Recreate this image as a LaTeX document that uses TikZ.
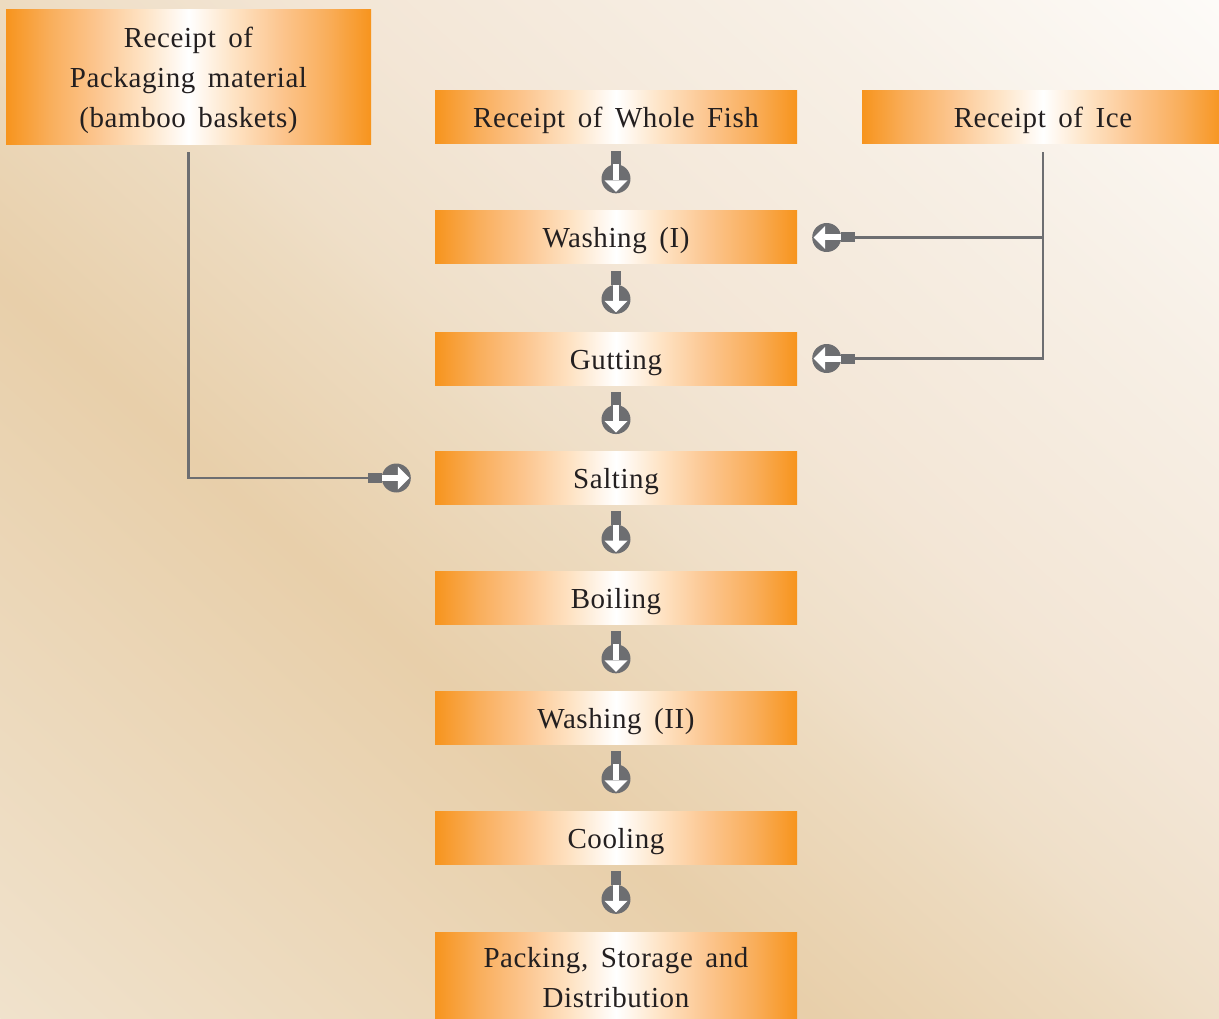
\documentclass[tikz,border=0pt]{standalone}
\usepackage{fontspec}
\setmainfont{Liberation Serif}[LetterSpace=2,WordSpace=1.6]
\usetikzlibrary{calc}

% palette
\definecolor{boxorange}{HTML}{F7941D}
\definecolor{orA}{HTML}{F9AE5B}
\definecolor{orB}{HTML}{FCC690}
\definecolor{orC}{HTML}{FEE4C6}
\definecolor{ink}{HTML}{231F20}
\definecolor{iconc}{HTML}{6D6E71}
\definecolor{bg0}{HTML}{FDFBF8}
\definecolor{bg1}{HTML}{F7EFE5}
\definecolor{bg2}{HTML}{F3E6D6}
\definecolor{bg3}{HTML}{EFDFC8}
\definecolor{bg4}{HTML}{EDDBC0}
\definecolor{bg5}{HTML}{E8CFAA}
\definecolor{bg6}{HTML}{F0E2CC}

% orange-white-orange fill of the process boxes
\pgfdeclarehorizontalshading{stepshade}{100bp}{%
  color(0bp)=(boxorange); color(25bp)=(boxorange); color(31bp)=(orA);
  color(37.5bp)=(orB); color(44bp)=(orC); color(50bp)=(white);
  color(56bp)=(orC); color(62.5bp)=(orB); color(69bp)=(orA);
  color(75bp)=(boxorange); color(100bp)=(boxorange)}

% diagonal backdrop, light in the upper right, tan band across the middle
\pgfdeclarehorizontalshading{bgshade}{100bp}{%
  color(0bp)=(bg0); color(25bp)=(bg0); color(34.6bp)=(bg1);
  color(43.8bp)=(bg2); color(49.1bp)=(bg3); color(50.9bp)=(bg4);
  color(57.6bp)=(bg5); color(75bp)=(bg6); color(100bp)=(bg6)}

\tikzset{
  stepbox/.style={rectangle, shade, shading=stepshade, minimum width=362,
    minimum height=53, inner sep=0, text=ink, align=center,
    font=\fontsize{29}{40}\selectfont, text height=21, text depth=0},
  multibox/.style={stepbox, text height=, text depth=0},
  link/.style={draw=iconc, line width=2.5},
  flowicon/.pic={
    \fill[iconc] (-5,-28) rectangle (5,-14);
    \fill[iconc] (0,0) circle[radius=14.5];
    \fill[white] (-3,-14.5) rectangle (3,1.5);
    \fill[white] (-11.5,1.5) -- (11.5,1.5) -- (0,13) -- cycle;
  }
}

\begin{document}
\begin{tikzpicture}[x=1pt, y=-1pt]
\useasboundingbox (0,0) rectangle (1219,1019);

% backdrop
\begin{scope}
  \clip (0,0) rectangle (1219,1019);
  \begin{scope}[transform canvas={rotate=228.1}]
    \shade[shading=bgshade] (-814,-1700) rectangle (758,1700);
  \end{scope}
\end{scope}

% process steps
\node[stepbox] (fish)  at (616,117.5) {Receipt of Whole Fish};
\node[stepbox] (wash1) at (616,237.5) {Washing (I)};
\node[stepbox] (gut)   at (616,358.5) {Gutting};
\node[stepbox] (salt)  at (616,478)   {Salting};
\node[stepbox] (boil)  at (616,597.5) {Boiling};
\node[stepbox] (wash2) at (616,717.5) {Washing (II)};
\node[stepbox] (cool)  at (616,837.5) {Cooling};
\node[multibox, minimum height=90] (pack) at (616,977)
  {Packing, Storage and\\Distribution};

% inputs
\node[multibox, minimum width=365, minimum height=135] (pkg) at (188.5,77.5)
  {Receipt of\\Packaging material\\(bamboo baskets)};
\node[stepbox] (ice) at (1043,117.5) {Receipt of Ice};

% main flow
\foreach \a/\b/\n in {fish/wash1/1, wash1/gut/2, gut/salt/3, salt/boil/4,
                      boil/wash2/5, wash2/cool/6, cool/pack/7}{
  \path (\a.south) -- (\b.north) coordinate[pos=0.52] (m\n);
  \pic at (m\n) {flowicon};
}

% ice feed
\coordinate (iceTop) at ($(ice.south)+(0,8)$);
\draw[link] (iceTop) |- ($(gut.east)+(56,0)$);
\draw[link] ($(wash1.east)+(56,0)$) -- (wash1.east -| iceTop);
\pic[rotate=-90] at ($(wash1.east)+(29.5,0)$) {flowicon};
\pic[rotate=-90] at ($(gut.east)+(29.5,0)$) {flowicon};

% packaging feed
\coordinate (pkgTop) at ($(pkg.south)+(0,7)$);
\draw[link] (pkgTop) |- ($(salt.west)+(-64,0)$);
\pic[rotate=90] at ($(salt.west)+(-38.5,0)$) {flowicon};
\end{tikzpicture}
\end{document}
